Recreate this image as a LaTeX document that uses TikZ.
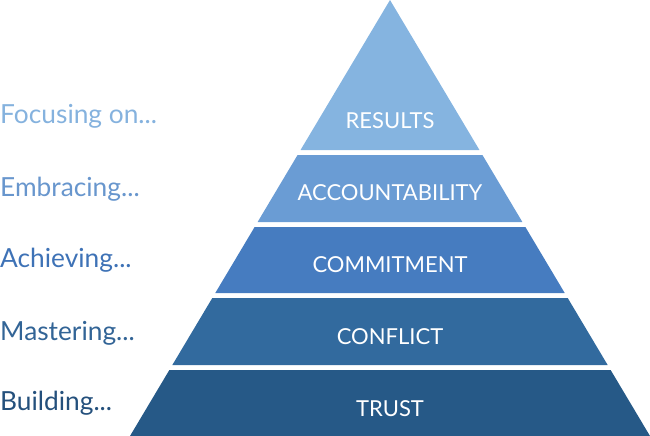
\documentclass[tikz,border=0pt]{standalone}
\usepackage{fontspec}
\setmainfont{Lato}
\definecolor{cA}{RGB}{133,180,224}
\definecolor{cB}{RGB}{106,156,212}
\definecolor{cC}{RGB}{70,124,192}
\definecolor{cD}{RGB}{50,106,158}
\definecolor{cE}{RGB}{38,89,135}
\definecolor{tA}{RGB}{133,178,222}
\definecolor{tB}{RGB}{104,150,205}
\definecolor{tC}{RGB}{62,114,182}
\definecolor{tD}{RGB}{50,100,150}
\definecolor{tE}{RGB}{36,80,124}
\begin{document}
\begin{tikzpicture}[x=1pt,y=-1pt,
  bandlabel/.style={text=white,font=\fontsize{22}{26}\selectfont,inner sep=0pt},
  sidelabel/.style={text=#1,font=\fontsize{26.3}{30}\selectfont,inner sep=0pt,anchor=base west}]
\useasboundingbox (0,0) rectangle (650,436);
% apex (390,0); half-width at depth y = 0.5963*y
\fill[cA] (390,0) -- ({390-0.59633*150},150) -- ({390+0.59633*150},150) -- cycle;
\foreach \t/\b/\c in {155/222/cB,227/293/cC,298/365/cD,370/436/cE}{
  \fill[\c] ({390-0.59633*\t},\t) -- ({390+0.59633*\t},\t) -- ({390+0.59633*\b},\b) -- ({390-0.59633*\b},\b) -- cycle;
}
\node[bandlabel] (results) at (390,121) {RESULTS};
\node[bandlabel] (acc) at (390,193) {ACCOUNTABILITY};
\node[bandlabel] (com) at (390,265) {COMMITMENT};
\node[bandlabel] (con) at (390,337) {CONFLICT};
\node[bandlabel] (trust) at (390,409) {TRUST};
\node[sidelabel=tA] (l1) at (0,123) {Focusing on...};
\node[sidelabel=tB] (l2) at (0,196) {Embracing...};
\node[sidelabel=tC] (l3) at (0,267) {Achieving...};
\node[sidelabel=tD] (l4) at (0,340) {Mastering...};
\node[sidelabel=tE] (l5) at (0,410) {Building...};
\end{tikzpicture}
\end{document}
